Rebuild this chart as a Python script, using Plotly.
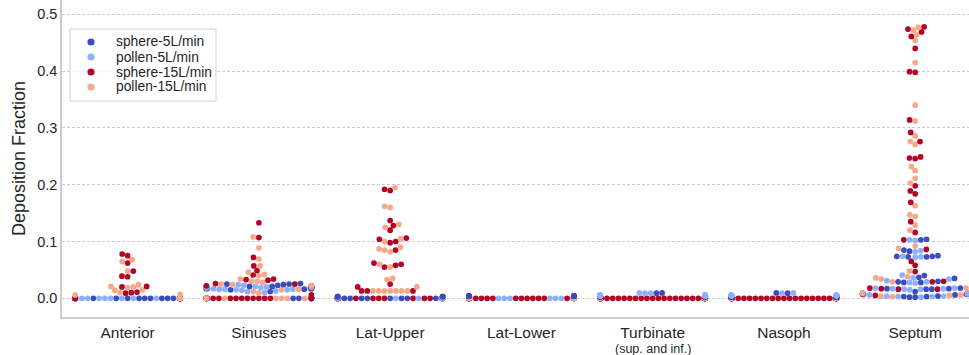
import numpy as np
import plotly.graph_objects as go

# ---------------------------------------------------------------- data
categories = ["Anterior", "Sinuses", "Lat-Upper", "Lat-Lower",
              "Turbinate", "Nasoph", "Septum"]
tick_labels = ["Anterior", "Sinuses", "Lat-Upper", "Lat-Lower",
               "Turbinate", "Nasoph", "Septum"]
turbinate_note = "(sup. and inf.)"
series_names = ["sphere-5L/min", "pollen-5L/min", "sphere-15L/min", "pollen-15L/min"]
series_colors = ["#3b4cc0", "#8db0fe", "#b40426", "#f7a889"]
y_ticks = [0.0, 0.1, 0.2, 0.3, 0.4, 0.5]

# deposition fraction per region, one value per case (33 cases per series)
anterior_sphere5 = [0, 0, 0, 0, 0, 0, 0, 0, 0, 0, 0, 0, 0, 0, 0, 0, 0,
                    0, 0, 0, 0, 0, 0, 0, 0, 0, 0, 0, 0, 0, 0, 0, 0]
anterior_pollen5 = [0, 0, 0, 0, 0, 0, 0, 0, 0, 0, 0, 0, 0, 0, 0, 0, 0,
                    0, 0, 0, 0, 0, 0, 0, 0, 0, 0, 0, 0, 0, 0, 0, 0]
anterior_sphere15 = [0.078, 0.075, 0.062, 0.048, 0.039, 0.038, 0.021, 0.020, 0.011, 0.010,
                     0.009, 0, 0, 0, 0, 0, 0, 0, 0, 0, 0, 0, 0, 0, 0, 0, 0, 0, 0, 0,
                     0, 0, 0]
anterior_pollen15 = [0.068, 0.065, 0.048, 0.024, 0.021, 0.020, 0.019, 0.015, 0.014, 0.010,
                     0.007, 0.006, 0, 0, 0, 0, 0, 0, 0, 0, 0, 0, 0, 0, 0, 0, 0, 0, 0, 0,
                     0, 0, 0]

sinuses_sphere5 = [0.026, 0.025, 0.025, 0.024, 0.023, 0.022, 0.021, 0.021, 0.020, 0.020,
                   0.019, 0.019, 0.019, 0.018, 0.018, 0.018, 0.018, 0.017, 0.017, 0.016,
                   0.015, 0.012, 0.018, 0, 0, 0, 0, 0, 0, 0, 0, 0, 0]
sinuses_pollen5 = [0.024, 0.023, 0.022, 0.021, 0.020, 0.020, 0.019, 0.019, 0.019, 0.018,
                   0.018, 0.018, 0.017, 0.017, 0.017, 0.016, 0.016, 0.016, 0.015, 0.015,
                   0.014, 0.013, 0.012, 0.010, 0.018, 0.017, 0, 0, 0, 0, 0, 0, 0]
sinuses_sphere15 = [0.133, 0.107, 0.072, 0.057, 0.049, 0.041, 0.034, 0.033, 0.032, 0.026,
                    0.025, 0.022, 0.020, 0.018, 0.006, 0, 0, 0, 0, 0,
                    0, 0, 0, 0, 0, 0, 0, 0, 0, 0, 0, 0, 0]
sinuses_pollen15 = [0.108, 0.089, 0.069, 0.057, 0.046, 0.042, 0.040, 0.034, 0.030, 0.030,
                    0.028, 0.025, 0.024, 0.022, 0.020, 0.020, 0.016, 0.015, 0.012, 0.010,
                    0, 0, 0, 0, 0, 0, 0, 0, 0, 0, 0, 0, 0]

latupper_sphere5 = [0, 0, 0, 0, 0, 0, 0, 0, 0, 0, 0, 0, 0, 0, 0, 0, 0,
                    0, 0, 0, 0, 0, 0, 0, 0, 0, 0, 0.003, 0.003, 0.003, 0.003, 0.003, 0.003]
latupper_pollen5 = [0.001, 0, 0.001, 0.001, 0, 0.001, 0.001, 0.001, 0, 0.001, 0.001, 0.001,
                    0, 0, 0, 0, 0, 0, 0, 0, 0, 0, 0, 0, 0, 0, 0, 0, 0, 0, 0, 0, 0]
latupper_sphere15 = [0, 0, 0, 0, 0, 0, 0, 0, 0, 0, 0.192, 0.190, 0.137, 0.128, 0.120,
                     0.106, 0.104, 0.100, 0.098, 0.085, 0.062, 0.060, 0.058, 0.055, 0.025,
                     0.020, 0.013, 0.013, 0.013, 0, 0, 0, 0]
latupper_pollen15 = [0.195, 0.162, 0.160, 0.130, 0.125, 0.105, 0.100, 0.090, 0.087, 0.085,
                     0.082, 0.060, 0.055, 0.035, 0.033, 0.020, 0.013, 0.013, 0.013, 0.013,
                     0.013, 0.013, 0.013, 0, 0, 0, 0, 0, 0, 0, 0, 0, 0]

latlower_sphere5 = [0.004, 0.004, 0.004, 0.004, 0.004, 0.004, 0.004, 0.004, 0.004, 0.004,
                    0.004, 0.004, 0.004, 0.004, 0.004, 0.004, 0.004, 0.004, 0.004, 0.004,
                    0.004, 0.004, 0.004, 0.004, 0.004, 0.004, 0.004, 0.004, 0.004, 0.004,
                    0.004, 0.004, 0.004]
latlower_pollen5 = [0.001, 0.001, 0.001, 0, 0, 0, 0, 0.001, 0, 0, 0, 0, 0, 0, 0, 0, 0,
                    0, 0, 0, 0, 0, 0, 0, 0, 0, 0, 0, 0, 0, 0, 0, 0]
latlower_sphere15 = [0, 0, 0, 0, 0, 0, 0, 0, 0, 0, 0, 0, 0, 0, 0, 0, 0,
                     0, 0, 0, 0, 0, 0, 0, 0, 0, 0, 0, 0, 0, 0, 0, 0]
latlower_pollen15 = [0.001, 0.001, 0.001, 0.001, 0.001, 0.001, 0.001, 0.001, 0.001, 0.001,
                     0.001, 0.001, 0.001, 0.001, 0.001, 0.001, 0.001, 0.001, 0.001, 0.001,
                     0.001, 0.001, 0.001, 0.001, 0.001, 0.001, 0.001, 0.001, 0.001, 0.001,
                     0.001, 0.001, 0.001]

turbinate_sphere5 = [0.0095, 0.009, 0.003, 0.003, 0.003, 0.003, 0.003, 0.003, 0.003, 0.003,
                     0.003, 0.003, 0.003, 0.003, 0.003, 0.003, 0.003, 0.003, 0.003, 0.003,
                     0.003, 0.003, 0.003, 0.003, 0.003, 0.003, 0.003, 0.003, 0.003, 0.003,
                     0.003, 0.003, 0.003]
turbinate_pollen5 = [0.0095, 0.009, 0.009, 0.005, 0.005, 0.005, 0.005, 0.005, 0.005, 0.005,
                     0.005, 0.005, 0.005, 0.005, 0.005, 0.005, 0.005, 0.005, 0.005, 0.005,
                     0.005, 0.005, 0.005, 0.005, 0.005, 0.005, 0.005, 0.005, 0.005, 0.005,
                     0.005, 0.005, 0.005]
turbinate_sphere15 = [0, 0, 0, 0, 0, 0, 0, 0, 0, 0, 0, 0, 0, 0, 0, 0, 0,
                      0, 0, 0, 0, 0, 0, 0, 0, 0, 0, 0, 0, 0, 0, 0, 0]
turbinate_pollen15 = [0.001, 0.001, 0.001, 0.001, 0.001, 0.001, 0.001, 0.001, 0.001, 0.001,
                      0.001, 0.001, 0.001, 0.001, 0.001, 0.001, 0.001, 0.001, 0, 0.001,
                      0.001, 0.001, 0.001, 0.001, 0.001, 0.001, 0.001, 0.001, 0.001, 0.001,
                      0.001, 0.001, 0.001]

nasoph_sphere5 = [0.0095, 0.009, 0.002, 0.002, 0.002, 0.002, 0.002, 0.002, 0.002, 0.002,
                  0.002, 0.002, 0.002, 0.002, 0.002, 0.002, 0.002, 0.002, 0.002, 0.002,
                  0.002, 0.002, 0.002, 0.002, 0.002, 0.002, 0.002, 0.002, 0.002, 0.002,
                  0.002, 0.002, 0.002]
nasoph_pollen5 = [0.0095, 0.009, 0.005, 0.005, 0.005, 0.005, 0.005, 0.005, 0.005, 0.005,
                  0.005, 0.005, 0.005, 0.005, 0.005, 0.005, 0.005, 0.005, 0.005, 0.005,
                  0.005, 0.005, 0.005, 0.005, 0.005, 0.005, 0.005, 0.005, 0.005, 0.005,
                  0.005, 0.005, 0.005]
nasoph_sphere15 = [0, 0, 0, 0, 0, 0, 0, 0, 0, 0, 0, 0, 0, 0, 0, 0, 0,
                   0, 0, 0, 0, 0, 0, 0, 0, 0, 0, 0, 0, 0, 0, 0, 0]
nasoph_pollen15 = [0.001, 0.001, 0.001, 0.001, 0.001, 0.001, 0.001, 0.001, 0.001, 0.001,
                   0.001, 0.001, 0.001, 0.001, 0.001, 0.001, 0.001, 0.001, 0, 0.001,
                   0.001, 0.001, 0.001, 0.001, 0.001, 0.001, 0.001, 0.001, 0.001, 0.001,
                   0.001, 0.001, 0.001]

septum_sphere5 = [0.104, 0.103, 0.085, 0.083, 0.075, 0.074, 0.074, 0.073, 0.073, 0.040,
                  0.037, 0.035, 0.030, 0.029, 0.028, 0.028, 0.018, 0.017, 0.017, 0.016,
                  0.016, 0.012, 0.009, 0.008, 0.008, 0.007, 0.007, 0.006, 0.004, 0.003,
                  0.003, 0.002, 0.002]
septum_pollen5 = [0.103, 0.102, 0.084, 0.082, 0.074, 0.073, 0.072, 0.041, 0.036, 0.034,
                  0.031, 0.029, 0.028, 0.027, 0.018, 0.018, 0.017, 0.017, 0.016, 0.016,
                  0.015, 0.009, 0.009, 0.008, 0.008, 0.007, 0.007, 0.006, 0.004, 0.004,
                  0.003, 0.003, 0.002]
septum_sphere15 = [0.478, 0.474, 0.469, 0.461, 0.440, 0.399, 0.398, 0.314, 0.292, 0.276,
                   0.249, 0.247, 0.246, 0.198, 0.189, 0.184, 0.169, 0.135, 0.116, 0.103,
                   0.086, 0.065, 0.058, 0.047, 0.030, 0.029, 0.018, 0.017, 0.016, 0.016,
                   0.008, 0.007, 0.005]
septum_pollen15 = [0.477, 0.472, 0.464, 0.454, 0.415, 0.340, 0.312, 0.286, 0.276, 0.271,
                   0.232, 0.225, 0.211, 0.203, 0.163, 0.147, 0.144, 0.129, 0.120, 0.092,
                   0.088, 0.048, 0.038, 0.036, 0.034, 0.029, 0.018, 0.009, 0.008, 0.006,
                   0.005, 0.004, 0.003]

region_series = [
    [anterior_sphere5, anterior_pollen5, anterior_sphere15, anterior_pollen15],
    [sinuses_sphere5, sinuses_pollen5, sinuses_sphere15, sinuses_pollen15],
    [latupper_sphere5, latupper_pollen5, latupper_sphere15, latupper_pollen15],
    [latlower_sphere5, latlower_pollen5, latlower_sphere15, latlower_pollen15],
    [turbinate_sphere5, turbinate_pollen5, turbinate_sphere15, turbinate_pollen15],
    [nasoph_sphere5, nasoph_pollen5, nasoph_sphere15, nasoph_pollen15],
    [septum_sphere5, septum_pollen5, septum_sphere15, septum_pollen15],
]

# ---------------------------------------------------------------- layout geometry
FIG_W, FIG_H = 969, 355
M_L, M_R, M_T, M_B = 62, 0, 0, 38
X_RANGE = [-0.5, 6.41]
Y_RANGE = [-0.0329, 0.5252]
PLOT_W = FIG_W - M_L - M_R
PLOT_H = FIG_H - M_T - M_B
SX = PLOT_W / (X_RANGE[1] - X_RANGE[0])   # pixels per category unit
SY = PLOT_H / (Y_RANGE[1] - Y_RANGE[0])   # pixels per value unit
MARKER_D = 5.7
RADIUS = 2.72
SWARM_WIDTH = 0.8


def beeswarm(y_px, r):
    """Place points (already sorted by y) without overlap, nearest to the midline."""
    placed = []
    for y in y_px:
        neigh = []
        for xj, yj in reversed(placed):
            if y - yj < 2 * r:
                neigh.append((xj, yj))
            else:
                break
        neigh = neigh[::-1]
        cands = [0.0]
        left_first = True
        for xj, yj in neigh:
            dx = np.sqrt(max((2 * r) ** 2 - (y - yj) ** 2, 0.0)) * 1.05
            pair = [xj - dx, xj + dx] if left_first else [xj + dx, xj - dx]
            cands.extend(pair)
            left_first = not left_first
        cands = np.array(cands)
        cands = cands[np.argsort(np.abs(cands), kind="stable")]
        chosen = cands[0]
        if neigh:
            nx = np.array([p[0] for p in neigh])
            ny = np.array([p[1] for p in neigh])
            for c in cands:
                if np.all((nx - c) ** 2 + (ny - y) ** 2 >= (2 * r) ** 2):
                    chosen = c
                    break
        placed.append((chosen, y))
    return np.array([p[0] for p in placed])


xs, ys, cols = [], [], []
half_gutter = SWARM_WIDTH / 2 * SX
for ci, series in enumerate(region_series):
    vals = np.concatenate([np.asarray(s, float) for s in series])
    hue = np.concatenate([np.full(len(s), k) for k, s in enumerate(series)])
    case = np.concatenate([np.arange(len(s)) for s in series])
    # by value; equal values go case by case, with the series order rotating
    rot = (hue - case) % len(series)
    order = np.lexsort((rot, case, vals))
    v_sorted = vals[order]
    off = beeswarm(v_sorted * SY, RADIUS)
    off = np.clip(off, -half_gutter, half_gutter)
    xs.extend(ci + off / SX)
    ys.extend(v_sorted)
    cols.extend(series_colors[h] for h in hue[order])

fig = go.Figure()
fig.add_trace(go.Scatter(
    x=xs, y=ys, mode="markers",
    marker=dict(size=MARKER_D, color=cols, line=dict(width=0)),
    showlegend=False, hoverinfo="skip",
))

# ---------------------------------------------------------------- legend box
def px_to_paper(px, py):
    return (px - M_L) / PLOT_W, (FIG_H - M_B - py) / PLOT_H

shapes, annotations = [], []
bx0, by0 = px_to_paper(70, 29)
bx1, by1 = px_to_paper(216, 101)
shapes.append(dict(type="rect", xref="paper", yref="paper", x0=bx0, x1=bx1, y0=by1, y1=by0,
                   line=dict(color="#d0d0d0", width=1), fillcolor="rgba(255,255,255,0.8)",
                   layer="above"))
legend_rows = [42, 57, 72, 87]
for name, color, ry in zip(series_names, series_colors, legend_rows):
    mx, my = px_to_paper(91, ry)
    shapes.append(dict(type="circle", xref="paper", yref="paper",
                       xsizemode="pixel", ysizemode="pixel", xanchor=mx, yanchor=my,
                       x0=-3.6, x1=3.6, y0=-3.6, y1=3.6,
                       fillcolor=color, line=dict(width=0), layer="above"))
    tx, ty = px_to_paper(114, ry)
    annotations.append(dict(xref="paper", yref="paper", x=tx, y=ty, text=name,
                            showarrow=False, xanchor="left", yanchor="middle",
                            font=dict(size=13.8, color="#262626")))

# second line under the Turbinate tick label
_, note_y = px_to_paper(0, 348.5)
annotations.append(dict(xref="x", yref="paper", x=4, y=note_y, text=turbinate_note,
                        showarrow=False, xanchor="center", yanchor="middle",
                        font=dict(size=12.5, color="#262626")))

fig.update_layout(
    width=FIG_W, height=FIG_H,
    margin=dict(l=M_L, r=M_R, t=M_T, b=M_B, pad=0),
    paper_bgcolor="white", plot_bgcolor="white",
    font=dict(family="Liberation Sans, Arial, sans-serif", color="#262626"),
    shapes=shapes, annotations=annotations,
    showlegend=False,
)
fig.update_xaxes(
    range=X_RANGE, tickvals=list(range(len(categories))), ticktext=tick_labels,
    showgrid=False, zeroline=False, showline=True, linecolor="#cccccc", linewidth=1.5,
    ticks="", ticklabelstandoff=1, tickfont=dict(size=15.5, color="#262626"),
)
fig.update_yaxes(
    range=Y_RANGE, tickvals=y_ticks, tickformat=".1f",
    showgrid=True, gridcolor="#cccccc", gridwidth=1, griddash="3px,2px",
    zeroline=False, showline=True, linecolor="#cccccc", linewidth=1.5,
    ticks="", tickfont=dict(size=14.5, color="#262626"),
    title=dict(text="Deposition Fraction", font=dict(size=18, color="#262626"), standoff=7),
)

fig.write_html("out.html")
